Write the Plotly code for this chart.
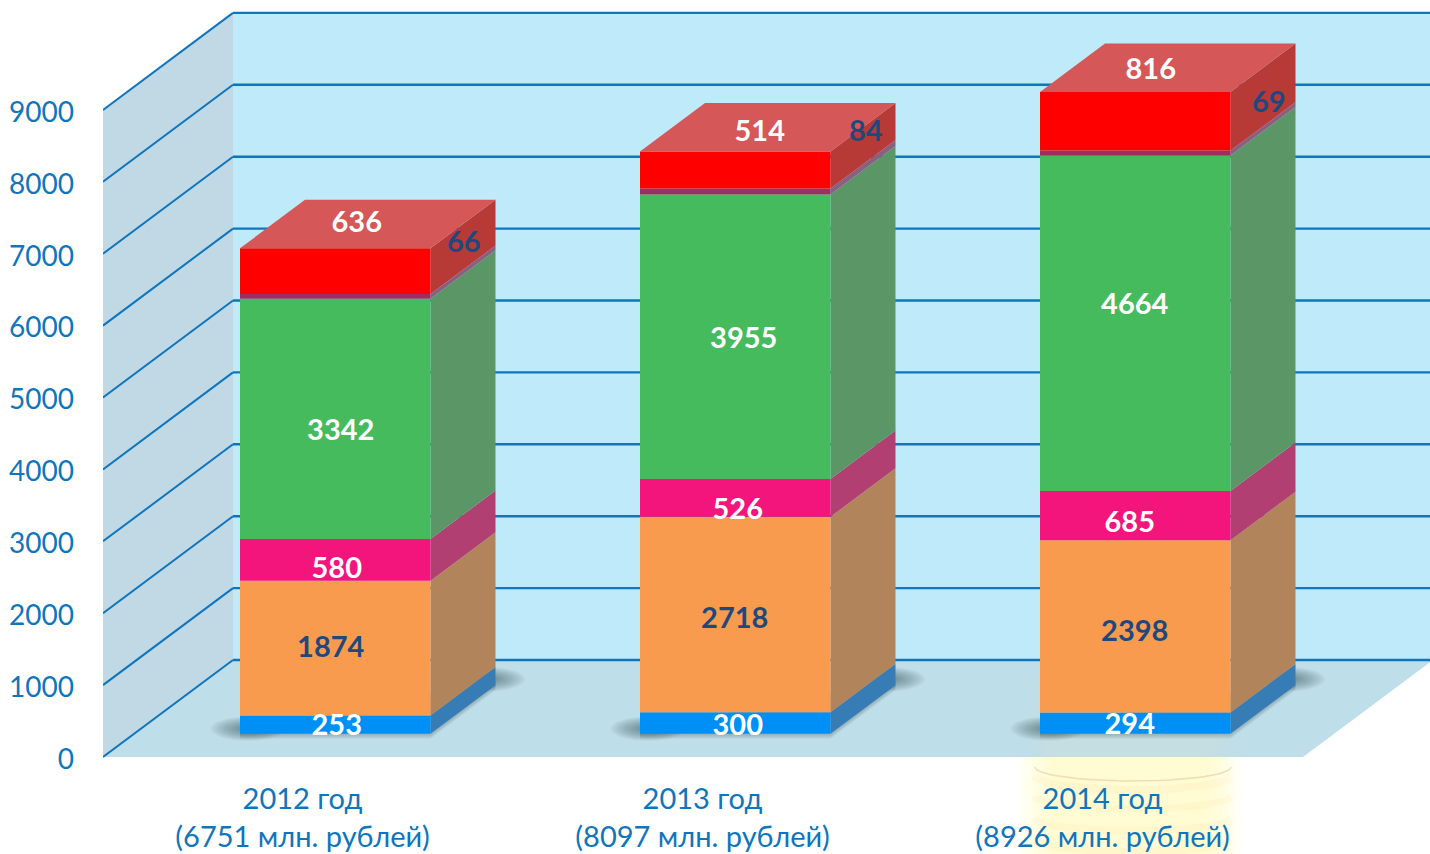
import numpy as np
import plotly.graph_objects as go

# ---- data ----
years = ["2012 год", "2013 год", "2014 год"]
totals = [6751, 8097, 8926]
blue_values = [253, 300, 294]
orange_values = [1874, 2718, 2398]
pink_values = [580, 526, 685]
green_values = [3342, 3955, 4664]
purple_values = [66, 84, 69]
red_values = [636, 514, 816]
y_ticks = [0, 1000, 2000, 3000, 4000, 5000, 6000, 7000, 8000, 9000]

# ---- styles ----
series = [
    (blue_values, "#0090F5", "#377DB5", "white"),
    (orange_values, "#F99B4F", "#B2845C", "#1F497D"),
    (pink_values, "#F4157C", "#B23F72", "white"),
    (green_values, "#45BB5E", "#5A9666", "white"),
    (purple_values, "#9B3060", "#8A6080", "#1F497D"),
    (red_values, "#FF0000", "#B83A36", "white"),
]
TOP_COLOR = "#D55757"
TICK_COLOR = "#0F75BD"
GRID = "#0F75BD"
FONT = "Lato"

# ---- geometry of the pseudo-3D box (plot units: px horizontally, values vertically) ----
PX_PER_UNIT = 0.0719
BASE_PY = 757
WALL_DX = 130
WALL_DUP = 97 / PX_PER_UNIT
BAR_D0 = 0.24
BAR_DEPTH = 0.5
BAR_W = 190.5
BAR_LEFT = [240, 640, 1040]
X_MIN, X_MAX = 103, 1430
FLOOR_W = 1200
Y_MIN = -(854 - BASE_PY) / PX_PER_UNIT
Y_MAX = BASE_PY / PX_PER_UNIT
LABEL_SHIFT_PX = 3.5

# label offsets (px) from the front-face centre of each segment
label_offsets = [
    [(1.5, 0), (-4.5, -2), (1.5, 7), (5.5, 10), (128.5, -55), (21.5, -49.5)],
    [(2.5, 1), (-0.5, 3), (2.5, 10), (8.5, 1), (130.5, -61), (24.5, -40)],
    [(-5.5, 0.5), (-0.5, 3.5), (-5.5, 6), (-0.5, -19.5), (133.5, -52), (15.5, -52.6)],
]


def yv(py):
    return (BASE_PY - py) / PX_PER_UNIT


def poly(xs, ys, color):
    return go.Scatter(x=xs, y=ys, mode="lines", fill="toself", fillcolor=color,
                      line=dict(width=0), hoverinfo="skip", showlegend=False)


def line(xs, ys, color, width):
    return go.Scatter(x=xs, y=ys, mode="lines", line=dict(color=color, width=width),
                      hoverinfo="skip", showlegend=False)


fig = go.Figure()

# floor, back wall, left wall
fig.add_trace(poly([X_MIN, X_MIN + FLOOR_W, X_MAX + 3, X_MIN + WALL_DX],
                   [0, 0, WALL_DUP, WALL_DUP], "#BEDEEA"))
fig.add_trace(poly([X_MIN + WALL_DX, X_MAX, X_MAX, X_MIN + WALL_DX],
                   [WALL_DUP, WALL_DUP, 9000 + WALL_DUP, 9000 + WALL_DUP], "#BFEAFA"))
fig.add_trace(poly([X_MIN, X_MIN + WALL_DX, X_MIN + WALL_DX, X_MIN],
                   [0, WALL_DUP, 9000 + WALL_DUP, 9000], "#C1D9E5"))

# grid
for t in y_ticks:
    fig.add_trace(line([X_MIN, X_MIN + WALL_DX], [t, t + WALL_DUP], GRID, 2))
    fig.add_trace(line([X_MIN + WALL_DX, X_MAX], [t + WALL_DUP, t + WALL_DUP], GRID, 2.4))

# faded coin stack behind the third bar (decoration)
for e, a in [(0, 0.03), (3, 0.04), (6, 0.04), (10, 0.05), (14, 0.06), (19, 0.06), (25, 0.07), (32, 0.07)]:
    fig.add_trace(poly([1018 + e, 1242 - e, 1242 - e, 1018 + e],
                       [yv(757), yv(757), yv(854), yv(854)], f"rgba(255,246,140,{a})"))
for e in [0, 10, 20]:
    fig.add_trace(poly([1025 + e, 1235 - e, 1235 - e, 1025 + e],
                       [yv(672 + e), yv(672 + e), yv(757), yv(757)], "rgba(240,238,170,0.05)"))
t = np.linspace(0, np.pi, 30)
for cy, depth, col, w in [(767, 14, "rgba(190,120,70,0.22)", 1.6),
                          (776, 14, "rgba(250,200,130,0.09)", 8), (796, 13, "rgba(250,195,120,0.09)", 7),
                          (818, 13, "rgba(250,195,120,0.08)", 7), (840, 12, "rgba(250,195,120,0.08)", 7)]:
    fig.add_trace(line(1133 + 98 * np.cos(t), yv(cy + depth * np.sin(t)), col, w))

# soft shadows on the floor
lift0 = BAR_D0 * WALL_DUP
lift1 = (BAR_D0 + BAR_DEPTH) * WALL_DUP
side_dx = BAR_DEPTH * WALL_DX
u = 1 / PX_PER_UNIT
a_all = np.linspace(0, 2 * np.pi, 40)
for left in BAR_LEFT:
    right = left + BAR_W
    for e in range(2, 32, 2):
        # left end, under the front corner
        fig.add_trace(poly(left + 8 + (8 + e) * np.cos(a_all),
                           lift0 + (5 + (2 + 0.34 * e) * np.sin(a_all)) * u, "rgba(45,65,75,0.04)"))
        # right end, behind the back corner
        fig.add_trace(poly(right + side_dx - 8 + (8 + e) * np.cos(a_all),
                           lift1 + (6 + (2 + 0.34 * e) * np.sin(a_all)) * u, "rgba(45,65,75,0.04)"))
    for lip in [5, 4, 3, 2, 1]:
        fig.add_trace(poly([left, right, right + side_dx, right + side_dx, left],
                           [lift0 - lip * u, lift0 - lip * u, lift1 - lip * u, lift1 + 4 * u, lift0 + 4 * u],
                           "rgba(45,65,75,0.06)"))

# bars
lx, ly, lt, lc = [], [], [], []
for b, left in enumerate(BAR_LEFT):
    cum = 0
    right = left + BAR_W
    for s, (vals, front, side, txt) in enumerate(series):
        v = vals[b]
        lo, hi = cum, cum + v
        fig.add_trace(poly([right, right + side_dx, right + side_dx, right],
                           [lo + lift0, lo + lift1, hi + lift1, hi + lift0], side))
        fig.add_trace(poly([left, right, right, left],
                           [lo + lift0, lo + lift0, hi + lift0, hi + lift0], front))
        dx, dy = label_offsets[b][s]
        lx.append(left + BAR_W / 2 + dx)
        ly.append((lo + hi) / 2 + lift0 - (dy + LABEL_SHIFT_PX) / PX_PER_UNIT)
        lt.append(str(v))
        lc.append(txt)
        cum = hi
    fig.add_trace(poly([left, right, right + side_dx, left + side_dx],
                       [cum + lift0, cum + lift0, cum + lift1, cum + lift1], TOP_COLOR))

fig.add_trace(go.Scatter(x=lx, y=ly, mode="text", text=lt, textposition="middle center",
                         textfont=dict(family=FONT, size=29, color=lc, weight="bold"),
                         cliponaxis=False, hoverinfo="skip", showlegend=False))

tick_x = [BAR_LEFT[i] + 62.5 for i in range(3)]
tick_text = [f"{y}<br>({t} млн. рублей)" for y, t in zip(years, totals)]

fig.update_layout(
    width=1430, height=854, autosize=False,
    margin=dict(l=X_MIN, r=0, t=0, b=0),
    paper_bgcolor="white", plot_bgcolor="white", showlegend=False,
    font=dict(family=FONT, color=TICK_COLOR),
    xaxis=dict(range=[X_MIN, X_MAX], showgrid=False, zeroline=False, showline=False,
               tickmode="array", tickvals=tick_x, ticktext=tick_text, ticks="",
               tickfont=dict(family=FONT, size=29, color=TICK_COLOR),
               anchor="free", position=97 / 854, ticklabelstandoff=22),
    yaxis=dict(range=[Y_MIN, Y_MAX], showgrid=False, zeroline=False, showline=False,
               tickmode="array", tickvals=y_ticks, ticktext=[str(t) for t in y_ticks], ticks="",
               tickfont=dict(family=FONT, size=28, color=TICK_COLOR), ticklabelstandoff=28,
               ticklabelshift=2),
)

fig.write_html("out.html", config={"displayModeBar": False},
               post_script="document.body.style.margin='0';document.documentElement.style.overflow='hidden';")
